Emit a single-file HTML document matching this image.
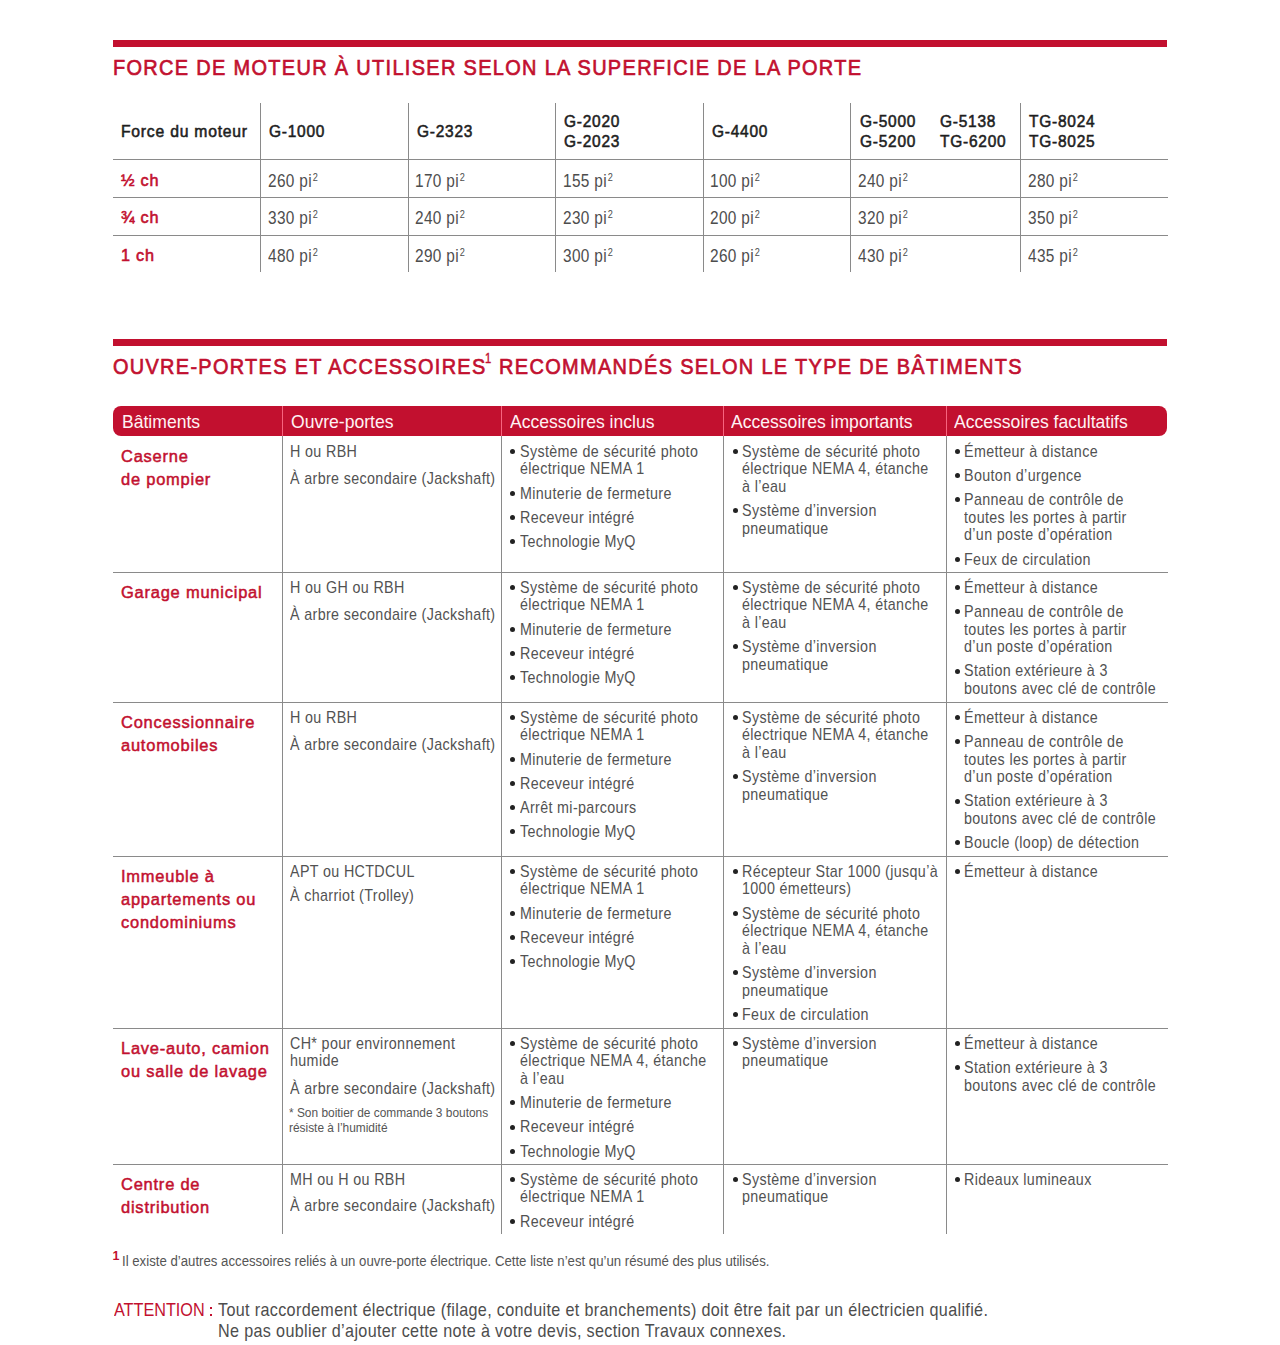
<!DOCTYPE html>
<html><head><meta charset="utf-8"><title>Force de moteur</title>
<style>
html,body{margin:0;padding:0;background:#fff;}
body{width:1280px;height:1345px;position:relative;overflow:hidden;font-family:"Liberation Sans",sans-serif;}
.t{position:absolute;white-space:nowrap;}
.r{position:absolute;}
.sup{font-size:11px;vertical-align:6px;line-height:0;margin-left:1px;}
</style></head><body>
<div class="r" style="left:113px;top:40px;width:1054px;height:7px;background:#c2102f;"></div>
<div class="t" style="left:112.90px;top:56.75px;font-size:22.5px;line-height:22.5px;font-weight:normal;color:#c2102f;transform:scaleX(0.8863);transform-origin:0 19.05px;-webkit-text-stroke:0.7px #c2102f;letter-spacing:1.5px;">FORCE DE MOTEUR À UTILISER SELON LA SUPERFICIE DE LA PORTE</div>
<div class="r" style="left:260px;top:103px;width:1px;height:169px;background:#8a8a8a;"></div>
<div class="r" style="left:408px;top:103px;width:1px;height:169px;background:#8a8a8a;"></div>
<div class="r" style="left:555px;top:103px;width:1px;height:169px;background:#8a8a8a;"></div>
<div class="r" style="left:703px;top:103px;width:1px;height:169px;background:#8a8a8a;"></div>
<div class="r" style="left:850px;top:103px;width:1px;height:169px;background:#8a8a8a;"></div>
<div class="r" style="left:1020px;top:103px;width:1px;height:169px;background:#8a8a8a;"></div>
<div class="r" style="left:113px;top:159px;width:1055px;height:1px;background:#8a8a8a;"></div>
<div class="r" style="left:113px;top:197px;width:1055px;height:1px;background:#8a8a8a;"></div>
<div class="r" style="left:113px;top:235px;width:1055px;height:1px;background:#8a8a8a;"></div>
<div class="t" style="left:121.00px;top:123.95px;font-size:16.0px;line-height:16.0px;font-weight:normal;color:#1e1e1e;transform:scaleX(0.9800);transform-origin:0 13.55px;-webkit-text-stroke:0.55px #1e1e1e;letter-spacing:0.8px;">Force du moteur</div>
<div class="t" style="left:269.10px;top:123.95px;font-size:16.0px;line-height:16.0px;font-weight:normal;color:#1e1e1e;transform:scaleX(0.9663);transform-origin:0 13.55px;-webkit-text-stroke:0.55px #1e1e1e;letter-spacing:0.8px;">G-1000</div>
<div class="t" style="left:416.50px;top:123.95px;font-size:16.0px;line-height:16.0px;font-weight:normal;color:#1e1e1e;transform:scaleX(0.9663);transform-origin:0 13.55px;-webkit-text-stroke:0.55px #1e1e1e;letter-spacing:0.8px;">G-2323</div>
<div class="t" style="left:564.00px;top:114.35px;font-size:16.0px;line-height:16.0px;font-weight:normal;color:#1e1e1e;transform:scaleX(0.9663);transform-origin:0 13.55px;-webkit-text-stroke:0.55px #1e1e1e;letter-spacing:0.8px;">G-2020</div>
<div class="t" style="left:564.00px;top:134.05px;font-size:16.0px;line-height:16.0px;font-weight:normal;color:#1e1e1e;transform:scaleX(0.9663);transform-origin:0 13.55px;-webkit-text-stroke:0.55px #1e1e1e;letter-spacing:0.8px;">G-2023</div>
<div class="t" style="left:711.50px;top:123.95px;font-size:16.0px;line-height:16.0px;font-weight:normal;color:#1e1e1e;transform:scaleX(0.9663);transform-origin:0 13.55px;-webkit-text-stroke:0.55px #1e1e1e;letter-spacing:0.8px;">G-4400</div>
<div class="t" style="left:859.50px;top:114.35px;font-size:16.0px;line-height:16.0px;font-weight:normal;color:#1e1e1e;transform:scaleX(0.9663);transform-origin:0 13.55px;-webkit-text-stroke:0.55px #1e1e1e;letter-spacing:0.8px;">G-5000</div>
<div class="t" style="left:859.50px;top:134.05px;font-size:16.0px;line-height:16.0px;font-weight:normal;color:#1e1e1e;transform:scaleX(0.9663);transform-origin:0 13.55px;-webkit-text-stroke:0.55px #1e1e1e;letter-spacing:0.8px;">G-5200</div>
<div class="t" style="left:939.90px;top:114.35px;font-size:16.0px;line-height:16.0px;font-weight:normal;color:#1e1e1e;transform:scaleX(0.9663);transform-origin:0 13.55px;-webkit-text-stroke:0.55px #1e1e1e;letter-spacing:0.8px;">G-5138</div>
<div class="t" style="left:939.90px;top:134.05px;font-size:16.0px;line-height:16.0px;font-weight:normal;color:#1e1e1e;transform:scaleX(0.9663);transform-origin:0 13.55px;-webkit-text-stroke:0.55px #1e1e1e;letter-spacing:0.8px;">TG-6200</div>
<div class="t" style="left:1028.60px;top:114.35px;font-size:16.0px;line-height:16.0px;font-weight:normal;color:#1e1e1e;transform:scaleX(0.9663);transform-origin:0 13.55px;-webkit-text-stroke:0.55px #1e1e1e;letter-spacing:0.8px;">TG-8024</div>
<div class="t" style="left:1028.60px;top:134.05px;font-size:16.0px;line-height:16.0px;font-weight:normal;color:#1e1e1e;transform:scaleX(0.9663);transform-origin:0 13.55px;-webkit-text-stroke:0.55px #1e1e1e;letter-spacing:0.8px;">TG-8025</div>
<div class="t" style="left:120.50px;top:172.86px;font-size:16.7px;line-height:16.7px;font-weight:normal;color:#c2102f;transform:scaleX(0.9719);transform-origin:0 14.14px;-webkit-text-stroke:0.6px #c2102f;letter-spacing:0.8px;">½ ch</div>
<div class="t" style="left:268.00px;top:171.54px;font-size:18.5px;line-height:18.5px;font-weight:normal;color:#4d4d4d;transform:scaleX(0.8324);transform-origin:0 15.66px;letter-spacing:0.4px;">260 pi<span class="sup">2</span></div>
<div class="t" style="left:415.00px;top:171.54px;font-size:18.5px;line-height:18.5px;font-weight:normal;color:#4d4d4d;transform:scaleX(0.8324);transform-origin:0 15.66px;letter-spacing:0.4px;">170 pi<span class="sup">2</span></div>
<div class="t" style="left:563.30px;top:171.54px;font-size:18.5px;line-height:18.5px;font-weight:normal;color:#4d4d4d;transform:scaleX(0.8324);transform-origin:0 15.66px;letter-spacing:0.4px;">155 pi<span class="sup">2</span></div>
<div class="t" style="left:710.30px;top:171.54px;font-size:18.5px;line-height:18.5px;font-weight:normal;color:#4d4d4d;transform:scaleX(0.8324);transform-origin:0 15.66px;letter-spacing:0.4px;">100 pi<span class="sup">2</span></div>
<div class="t" style="left:858.30px;top:171.54px;font-size:18.5px;line-height:18.5px;font-weight:normal;color:#4d4d4d;transform:scaleX(0.8324);transform-origin:0 15.66px;letter-spacing:0.4px;">240 pi<span class="sup">2</span></div>
<div class="t" style="left:1028.10px;top:171.54px;font-size:18.5px;line-height:18.5px;font-weight:normal;color:#4d4d4d;transform:scaleX(0.8324);transform-origin:0 15.66px;letter-spacing:0.4px;">280 pi<span class="sup">2</span></div>
<div class="t" style="left:120.50px;top:210.46px;font-size:16.7px;line-height:16.7px;font-weight:normal;color:#c2102f;transform:scaleX(0.9719);transform-origin:0 14.14px;-webkit-text-stroke:0.6px #c2102f;letter-spacing:0.8px;">¾ ch</div>
<div class="t" style="left:268.00px;top:209.14px;font-size:18.5px;line-height:18.5px;font-weight:normal;color:#4d4d4d;transform:scaleX(0.8324);transform-origin:0 15.66px;letter-spacing:0.4px;">330 pi<span class="sup">2</span></div>
<div class="t" style="left:415.00px;top:209.14px;font-size:18.5px;line-height:18.5px;font-weight:normal;color:#4d4d4d;transform:scaleX(0.8324);transform-origin:0 15.66px;letter-spacing:0.4px;">240 pi<span class="sup">2</span></div>
<div class="t" style="left:563.30px;top:209.14px;font-size:18.5px;line-height:18.5px;font-weight:normal;color:#4d4d4d;transform:scaleX(0.8324);transform-origin:0 15.66px;letter-spacing:0.4px;">230 pi<span class="sup">2</span></div>
<div class="t" style="left:710.30px;top:209.14px;font-size:18.5px;line-height:18.5px;font-weight:normal;color:#4d4d4d;transform:scaleX(0.8324);transform-origin:0 15.66px;letter-spacing:0.4px;">200 pi<span class="sup">2</span></div>
<div class="t" style="left:858.30px;top:209.14px;font-size:18.5px;line-height:18.5px;font-weight:normal;color:#4d4d4d;transform:scaleX(0.8324);transform-origin:0 15.66px;letter-spacing:0.4px;">320 pi<span class="sup">2</span></div>
<div class="t" style="left:1028.10px;top:209.14px;font-size:18.5px;line-height:18.5px;font-weight:normal;color:#4d4d4d;transform:scaleX(0.8324);transform-origin:0 15.66px;letter-spacing:0.4px;">350 pi<span class="sup">2</span></div>
<div class="t" style="left:120.50px;top:247.96px;font-size:16.7px;line-height:16.7px;font-weight:normal;color:#c2102f;transform:scaleX(0.9719);transform-origin:0 14.14px;-webkit-text-stroke:0.6px #c2102f;letter-spacing:0.8px;">1 ch</div>
<div class="t" style="left:268.00px;top:246.64px;font-size:18.5px;line-height:18.5px;font-weight:normal;color:#4d4d4d;transform:scaleX(0.8324);transform-origin:0 15.66px;letter-spacing:0.4px;">480 pi<span class="sup">2</span></div>
<div class="t" style="left:415.00px;top:246.64px;font-size:18.5px;line-height:18.5px;font-weight:normal;color:#4d4d4d;transform:scaleX(0.8324);transform-origin:0 15.66px;letter-spacing:0.4px;">290 pi<span class="sup">2</span></div>
<div class="t" style="left:563.30px;top:246.64px;font-size:18.5px;line-height:18.5px;font-weight:normal;color:#4d4d4d;transform:scaleX(0.8324);transform-origin:0 15.66px;letter-spacing:0.4px;">300 pi<span class="sup">2</span></div>
<div class="t" style="left:710.30px;top:246.64px;font-size:18.5px;line-height:18.5px;font-weight:normal;color:#4d4d4d;transform:scaleX(0.8324);transform-origin:0 15.66px;letter-spacing:0.4px;">260 pi<span class="sup">2</span></div>
<div class="t" style="left:858.30px;top:246.64px;font-size:18.5px;line-height:18.5px;font-weight:normal;color:#4d4d4d;transform:scaleX(0.8324);transform-origin:0 15.66px;letter-spacing:0.4px;">430 pi<span class="sup">2</span></div>
<div class="t" style="left:1028.10px;top:246.64px;font-size:18.5px;line-height:18.5px;font-weight:normal;color:#4d4d4d;transform:scaleX(0.8324);transform-origin:0 15.66px;letter-spacing:0.4px;">435 pi<span class="sup">2</span></div>
<div class="r" style="left:113px;top:339px;width:1054px;height:7px;background:#c2102f;"></div>
<div class="t" style="left:113.40px;top:356.35px;font-size:22.5px;line-height:22.5px;font-weight:normal;color:#c2102f;transform:scaleX(0.8846);transform-origin:0 19.05px;-webkit-text-stroke:0.7px #c2102f;letter-spacing:1.5px;">OUVRE-PORTES ET ACCESSOIRES</div>
<div class="t" style="left:498.60px;top:356.35px;font-size:22.5px;line-height:22.5px;font-weight:normal;color:#c2102f;transform:scaleX(0.8872);transform-origin:0 19.05px;-webkit-text-stroke:0.7px #c2102f;letter-spacing:1.5px;">RECOMMANDÉS SELON LE TYPE DE BÂTIMENTS</div>
<div class="r" style="left:113px;top:406px;width:1054px;height:30px;background:#c2102f;border-radius:8px"></div>
<div class="r" style="left:282px;top:406px;width:1px;height:30px;background:#f7647f;"></div>
<div class="r" style="left:501px;top:406px;width:1px;height:30px;background:#f7647f;"></div>
<div class="r" style="left:723px;top:406px;width:1px;height:30px;background:#f7647f;"></div>
<div class="r" style="left:946px;top:406px;width:1px;height:30px;background:#f7647f;"></div>
<div class="t" style="left:121.90px;top:413.19px;font-size:18.2px;line-height:18.2px;font-weight:normal;color:#fff2f4;transform:scaleX(0.9659);transform-origin:0 15.41px;">Bâtiments</div>
<div class="t" style="left:290.90px;top:413.19px;font-size:18.2px;line-height:18.2px;font-weight:normal;color:#fff2f4;transform:scaleX(0.9659);transform-origin:0 15.41px;">Ouvre-portes</div>
<div class="t" style="left:510.30px;top:413.19px;font-size:18.2px;line-height:18.2px;font-weight:normal;color:#fff2f4;transform:scaleX(0.9659);transform-origin:0 15.41px;">Accessoires inclus</div>
<div class="t" style="left:731.30px;top:413.19px;font-size:18.2px;line-height:18.2px;font-weight:normal;color:#fff2f4;transform:scaleX(0.9659);transform-origin:0 15.41px;">Accessoires importants</div>
<div class="t" style="left:954.30px;top:413.19px;font-size:18.2px;line-height:18.2px;font-weight:normal;color:#fff2f4;transform:scaleX(0.9659);transform-origin:0 15.41px;">Accessoires facultatifs</div>
<div class="r" style="left:113px;top:572px;width:1055px;height:1px;background:#8a8a8a;"></div>
<div class="r" style="left:113px;top:702px;width:1055px;height:1px;background:#8a8a8a;"></div>
<div class="r" style="left:113px;top:856px;width:1055px;height:1px;background:#8a8a8a;"></div>
<div class="r" style="left:113px;top:1028px;width:1055px;height:1px;background:#8a8a8a;"></div>
<div class="r" style="left:113px;top:1164px;width:1055px;height:1px;background:#8a8a8a;"></div>
<div class="r" style="left:282px;top:436px;width:1px;height:798px;background:#8a8a8a;"></div>
<div class="r" style="left:501px;top:436px;width:1px;height:798px;background:#8a8a8a;"></div>
<div class="r" style="left:723px;top:436px;width:1px;height:798px;background:#8a8a8a;"></div>
<div class="r" style="left:946px;top:436px;width:1px;height:798px;background:#8a8a8a;"></div>
<div class="t" style="left:121.20px;top:448.86px;font-size:16.7px;line-height:16.7px;font-weight:normal;color:#c2102f;transform:scaleX(0.9850);transform-origin:0 14.14px;-webkit-text-stroke:0.5px #c2102f;letter-spacing:0.8px;">Caserne</div>
<div class="t" style="left:121.20px;top:471.96px;font-size:16.7px;line-height:16.7px;font-weight:normal;color:#c2102f;transform:scaleX(0.9850);transform-origin:0 14.14px;-webkit-text-stroke:0.5px #c2102f;letter-spacing:0.8px;">de pompier</div>
<div class="t" style="left:289.70px;top:443.74px;font-size:15.9px;line-height:15.9px;font-weight:normal;color:#525252;transform:scaleX(0.8994);transform-origin:0 13.46px;letter-spacing:0.4px;">H ou RBH</div>
<div class="t" style="left:289.70px;top:471.24px;font-size:15.9px;line-height:15.9px;font-weight:normal;color:#525252;transform:scaleX(0.8994);transform-origin:0 13.46px;letter-spacing:0.4px;">À arbre secondaire (Jackshaft)</div>
<div class="r" style="left:510.00px;top:449.00px;width:5px;height:5px;border-radius:50%;background:#222"></div>
<div class="t" style="left:519.60px;top:443.74px;font-size:15.9px;line-height:15.9px;font-weight:normal;color:#525252;transform:scaleX(0.8994);transform-origin:0 13.46px;letter-spacing:0.4px;">Système de sécurité photo</div>
<div class="t" style="left:519.60px;top:461.34px;font-size:15.9px;line-height:15.9px;font-weight:normal;color:#525252;transform:scaleX(0.8994);transform-origin:0 13.46px;letter-spacing:0.4px;">électrique NEMA 1</div>
<div class="r" style="left:510.00px;top:490.80px;width:5px;height:5px;border-radius:50%;background:#222"></div>
<div class="t" style="left:519.60px;top:485.54px;font-size:15.9px;line-height:15.9px;font-weight:normal;color:#525252;transform:scaleX(0.8994);transform-origin:0 13.46px;letter-spacing:0.4px;">Minuterie de fermeture</div>
<div class="r" style="left:510.00px;top:515.00px;width:5px;height:5px;border-radius:50%;background:#222"></div>
<div class="t" style="left:519.60px;top:509.74px;font-size:15.9px;line-height:15.9px;font-weight:normal;color:#525252;transform:scaleX(0.8994);transform-origin:0 13.46px;letter-spacing:0.4px;">Receveur intégré</div>
<div class="r" style="left:510.00px;top:539.20px;width:5px;height:5px;border-radius:50%;background:#222"></div>
<div class="t" style="left:519.60px;top:533.94px;font-size:15.9px;line-height:15.9px;font-weight:normal;color:#525252;transform:scaleX(0.8994);transform-origin:0 13.46px;letter-spacing:0.4px;">Technologie MyQ</div>
<div class="r" style="left:732.60px;top:449.00px;width:5px;height:5px;border-radius:50%;background:#222"></div>
<div class="t" style="left:742.20px;top:443.74px;font-size:15.9px;line-height:15.9px;font-weight:normal;color:#525252;transform:scaleX(0.8994);transform-origin:0 13.46px;letter-spacing:0.4px;">Système de sécurité photo</div>
<div class="t" style="left:742.20px;top:461.34px;font-size:15.9px;line-height:15.9px;font-weight:normal;color:#525252;transform:scaleX(0.8994);transform-origin:0 13.46px;letter-spacing:0.4px;">électrique NEMA 4, étanche</div>
<div class="t" style="left:742.20px;top:478.94px;font-size:15.9px;line-height:15.9px;font-weight:normal;color:#525252;transform:scaleX(0.8994);transform-origin:0 13.46px;letter-spacing:0.4px;">à l’eau</div>
<div class="r" style="left:732.60px;top:508.40px;width:5px;height:5px;border-radius:50%;background:#222"></div>
<div class="t" style="left:742.20px;top:503.14px;font-size:15.9px;line-height:15.9px;font-weight:normal;color:#525252;transform:scaleX(0.8994);transform-origin:0 13.46px;letter-spacing:0.4px;">Système d’inversion</div>
<div class="t" style="left:742.20px;top:520.74px;font-size:15.9px;line-height:15.9px;font-weight:normal;color:#525252;transform:scaleX(0.8994);transform-origin:0 13.46px;letter-spacing:0.4px;">pneumatique</div>
<div class="r" style="left:954.60px;top:449.00px;width:5px;height:5px;border-radius:50%;background:#222"></div>
<div class="t" style="left:964.20px;top:443.74px;font-size:15.9px;line-height:15.9px;font-weight:normal;color:#525252;transform:scaleX(0.8994);transform-origin:0 13.46px;letter-spacing:0.4px;">Émetteur à distance</div>
<div class="r" style="left:954.60px;top:473.20px;width:5px;height:5px;border-radius:50%;background:#222"></div>
<div class="t" style="left:964.20px;top:467.94px;font-size:15.9px;line-height:15.9px;font-weight:normal;color:#525252;transform:scaleX(0.8994);transform-origin:0 13.46px;letter-spacing:0.4px;">Bouton d’urgence</div>
<div class="r" style="left:954.60px;top:497.40px;width:5px;height:5px;border-radius:50%;background:#222"></div>
<div class="t" style="left:964.20px;top:492.14px;font-size:15.9px;line-height:15.9px;font-weight:normal;color:#525252;transform:scaleX(0.8994);transform-origin:0 13.46px;letter-spacing:0.4px;">Panneau de contrôle de</div>
<div class="t" style="left:964.20px;top:509.74px;font-size:15.9px;line-height:15.9px;font-weight:normal;color:#525252;transform:scaleX(0.8994);transform-origin:0 13.46px;letter-spacing:0.4px;">toutes les portes à partir</div>
<div class="t" style="left:964.20px;top:527.34px;font-size:15.9px;line-height:15.9px;font-weight:normal;color:#525252;transform:scaleX(0.8994);transform-origin:0 13.46px;letter-spacing:0.4px;">d’un poste d’opération</div>
<div class="r" style="left:954.60px;top:556.80px;width:5px;height:5px;border-radius:50%;background:#222"></div>
<div class="t" style="left:964.20px;top:551.54px;font-size:15.9px;line-height:15.9px;font-weight:normal;color:#525252;transform:scaleX(0.8994);transform-origin:0 13.46px;letter-spacing:0.4px;">Feux de circulation</div>
<div class="t" style="left:121.20px;top:584.86px;font-size:16.7px;line-height:16.7px;font-weight:normal;color:#c2102f;transform:scaleX(0.9850);transform-origin:0 14.14px;-webkit-text-stroke:0.5px #c2102f;letter-spacing:0.8px;">Garage municipal</div>
<div class="t" style="left:289.70px;top:579.74px;font-size:15.9px;line-height:15.9px;font-weight:normal;color:#525252;transform:scaleX(0.8994);transform-origin:0 13.46px;letter-spacing:0.4px;">H ou GH ou RBH</div>
<div class="t" style="left:289.70px;top:607.24px;font-size:15.9px;line-height:15.9px;font-weight:normal;color:#525252;transform:scaleX(0.8994);transform-origin:0 13.46px;letter-spacing:0.4px;">À arbre secondaire (Jackshaft)</div>
<div class="r" style="left:510.00px;top:585.00px;width:5px;height:5px;border-radius:50%;background:#222"></div>
<div class="t" style="left:519.60px;top:579.74px;font-size:15.9px;line-height:15.9px;font-weight:normal;color:#525252;transform:scaleX(0.8994);transform-origin:0 13.46px;letter-spacing:0.4px;">Système de sécurité photo</div>
<div class="t" style="left:519.60px;top:597.34px;font-size:15.9px;line-height:15.9px;font-weight:normal;color:#525252;transform:scaleX(0.8994);transform-origin:0 13.46px;letter-spacing:0.4px;">électrique NEMA 1</div>
<div class="r" style="left:510.00px;top:626.80px;width:5px;height:5px;border-radius:50%;background:#222"></div>
<div class="t" style="left:519.60px;top:621.54px;font-size:15.9px;line-height:15.9px;font-weight:normal;color:#525252;transform:scaleX(0.8994);transform-origin:0 13.46px;letter-spacing:0.4px;">Minuterie de fermeture</div>
<div class="r" style="left:510.00px;top:651.00px;width:5px;height:5px;border-radius:50%;background:#222"></div>
<div class="t" style="left:519.60px;top:645.74px;font-size:15.9px;line-height:15.9px;font-weight:normal;color:#525252;transform:scaleX(0.8994);transform-origin:0 13.46px;letter-spacing:0.4px;">Receveur intégré</div>
<div class="r" style="left:510.00px;top:675.20px;width:5px;height:5px;border-radius:50%;background:#222"></div>
<div class="t" style="left:519.60px;top:669.94px;font-size:15.9px;line-height:15.9px;font-weight:normal;color:#525252;transform:scaleX(0.8994);transform-origin:0 13.46px;letter-spacing:0.4px;">Technologie MyQ</div>
<div class="r" style="left:732.60px;top:585.00px;width:5px;height:5px;border-radius:50%;background:#222"></div>
<div class="t" style="left:742.20px;top:579.74px;font-size:15.9px;line-height:15.9px;font-weight:normal;color:#525252;transform:scaleX(0.8994);transform-origin:0 13.46px;letter-spacing:0.4px;">Système de sécurité photo</div>
<div class="t" style="left:742.20px;top:597.34px;font-size:15.9px;line-height:15.9px;font-weight:normal;color:#525252;transform:scaleX(0.8994);transform-origin:0 13.46px;letter-spacing:0.4px;">électrique NEMA 4, étanche</div>
<div class="t" style="left:742.20px;top:614.94px;font-size:15.9px;line-height:15.9px;font-weight:normal;color:#525252;transform:scaleX(0.8994);transform-origin:0 13.46px;letter-spacing:0.4px;">à l’eau</div>
<div class="r" style="left:732.60px;top:644.40px;width:5px;height:5px;border-radius:50%;background:#222"></div>
<div class="t" style="left:742.20px;top:639.14px;font-size:15.9px;line-height:15.9px;font-weight:normal;color:#525252;transform:scaleX(0.8994);transform-origin:0 13.46px;letter-spacing:0.4px;">Système d’inversion</div>
<div class="t" style="left:742.20px;top:656.74px;font-size:15.9px;line-height:15.9px;font-weight:normal;color:#525252;transform:scaleX(0.8994);transform-origin:0 13.46px;letter-spacing:0.4px;">pneumatique</div>
<div class="r" style="left:954.60px;top:585.00px;width:5px;height:5px;border-radius:50%;background:#222"></div>
<div class="t" style="left:964.20px;top:579.74px;font-size:15.9px;line-height:15.9px;font-weight:normal;color:#525252;transform:scaleX(0.8994);transform-origin:0 13.46px;letter-spacing:0.4px;">Émetteur à distance</div>
<div class="r" style="left:954.60px;top:609.20px;width:5px;height:5px;border-radius:50%;background:#222"></div>
<div class="t" style="left:964.20px;top:603.94px;font-size:15.9px;line-height:15.9px;font-weight:normal;color:#525252;transform:scaleX(0.8994);transform-origin:0 13.46px;letter-spacing:0.4px;">Panneau de contrôle de</div>
<div class="t" style="left:964.20px;top:621.54px;font-size:15.9px;line-height:15.9px;font-weight:normal;color:#525252;transform:scaleX(0.8994);transform-origin:0 13.46px;letter-spacing:0.4px;">toutes les portes à partir</div>
<div class="t" style="left:964.20px;top:639.14px;font-size:15.9px;line-height:15.9px;font-weight:normal;color:#525252;transform:scaleX(0.8994);transform-origin:0 13.46px;letter-spacing:0.4px;">d’un poste d’opération</div>
<div class="r" style="left:954.60px;top:668.60px;width:5px;height:5px;border-radius:50%;background:#222"></div>
<div class="t" style="left:964.20px;top:663.34px;font-size:15.9px;line-height:15.9px;font-weight:normal;color:#525252;transform:scaleX(0.8994);transform-origin:0 13.46px;letter-spacing:0.4px;">Station extérieure à 3</div>
<div class="t" style="left:964.20px;top:680.94px;font-size:15.9px;line-height:15.9px;font-weight:normal;color:#525252;transform:scaleX(0.8994);transform-origin:0 13.46px;letter-spacing:0.4px;">boutons avec clé de contrôle</div>
<div class="t" style="left:121.20px;top:714.86px;font-size:16.7px;line-height:16.7px;font-weight:normal;color:#c2102f;transform:scaleX(0.9850);transform-origin:0 14.14px;-webkit-text-stroke:0.5px #c2102f;letter-spacing:0.8px;">Concessionnaire</div>
<div class="t" style="left:121.20px;top:737.96px;font-size:16.7px;line-height:16.7px;font-weight:normal;color:#c2102f;transform:scaleX(0.9850);transform-origin:0 14.14px;-webkit-text-stroke:0.5px #c2102f;letter-spacing:0.8px;">automobiles</div>
<div class="t" style="left:289.70px;top:709.74px;font-size:15.9px;line-height:15.9px;font-weight:normal;color:#525252;transform:scaleX(0.8994);transform-origin:0 13.46px;letter-spacing:0.4px;">H ou RBH</div>
<div class="t" style="left:289.70px;top:737.24px;font-size:15.9px;line-height:15.9px;font-weight:normal;color:#525252;transform:scaleX(0.8994);transform-origin:0 13.46px;letter-spacing:0.4px;">À arbre secondaire (Jackshaft)</div>
<div class="r" style="left:510.00px;top:715.00px;width:5px;height:5px;border-radius:50%;background:#222"></div>
<div class="t" style="left:519.60px;top:709.74px;font-size:15.9px;line-height:15.9px;font-weight:normal;color:#525252;transform:scaleX(0.8994);transform-origin:0 13.46px;letter-spacing:0.4px;">Système de sécurité photo</div>
<div class="t" style="left:519.60px;top:727.34px;font-size:15.9px;line-height:15.9px;font-weight:normal;color:#525252;transform:scaleX(0.8994);transform-origin:0 13.46px;letter-spacing:0.4px;">électrique NEMA 1</div>
<div class="r" style="left:510.00px;top:756.80px;width:5px;height:5px;border-radius:50%;background:#222"></div>
<div class="t" style="left:519.60px;top:751.54px;font-size:15.9px;line-height:15.9px;font-weight:normal;color:#525252;transform:scaleX(0.8994);transform-origin:0 13.46px;letter-spacing:0.4px;">Minuterie de fermeture</div>
<div class="r" style="left:510.00px;top:781.00px;width:5px;height:5px;border-radius:50%;background:#222"></div>
<div class="t" style="left:519.60px;top:775.74px;font-size:15.9px;line-height:15.9px;font-weight:normal;color:#525252;transform:scaleX(0.8994);transform-origin:0 13.46px;letter-spacing:0.4px;">Receveur intégré</div>
<div class="r" style="left:510.00px;top:805.20px;width:5px;height:5px;border-radius:50%;background:#222"></div>
<div class="t" style="left:519.60px;top:799.94px;font-size:15.9px;line-height:15.9px;font-weight:normal;color:#525252;transform:scaleX(0.8994);transform-origin:0 13.46px;letter-spacing:0.4px;">Arrêt mi-parcours</div>
<div class="r" style="left:510.00px;top:829.40px;width:5px;height:5px;border-radius:50%;background:#222"></div>
<div class="t" style="left:519.60px;top:824.14px;font-size:15.9px;line-height:15.9px;font-weight:normal;color:#525252;transform:scaleX(0.8994);transform-origin:0 13.46px;letter-spacing:0.4px;">Technologie MyQ</div>
<div class="r" style="left:732.60px;top:715.00px;width:5px;height:5px;border-radius:50%;background:#222"></div>
<div class="t" style="left:742.20px;top:709.74px;font-size:15.9px;line-height:15.9px;font-weight:normal;color:#525252;transform:scaleX(0.8994);transform-origin:0 13.46px;letter-spacing:0.4px;">Système de sécurité photo</div>
<div class="t" style="left:742.20px;top:727.34px;font-size:15.9px;line-height:15.9px;font-weight:normal;color:#525252;transform:scaleX(0.8994);transform-origin:0 13.46px;letter-spacing:0.4px;">électrique NEMA 4, étanche</div>
<div class="t" style="left:742.20px;top:744.94px;font-size:15.9px;line-height:15.9px;font-weight:normal;color:#525252;transform:scaleX(0.8994);transform-origin:0 13.46px;letter-spacing:0.4px;">à l’eau</div>
<div class="r" style="left:732.60px;top:774.40px;width:5px;height:5px;border-radius:50%;background:#222"></div>
<div class="t" style="left:742.20px;top:769.14px;font-size:15.9px;line-height:15.9px;font-weight:normal;color:#525252;transform:scaleX(0.8994);transform-origin:0 13.46px;letter-spacing:0.4px;">Système d’inversion</div>
<div class="t" style="left:742.20px;top:786.74px;font-size:15.9px;line-height:15.9px;font-weight:normal;color:#525252;transform:scaleX(0.8994);transform-origin:0 13.46px;letter-spacing:0.4px;">pneumatique</div>
<div class="r" style="left:954.60px;top:715.00px;width:5px;height:5px;border-radius:50%;background:#222"></div>
<div class="t" style="left:964.20px;top:709.74px;font-size:15.9px;line-height:15.9px;font-weight:normal;color:#525252;transform:scaleX(0.8994);transform-origin:0 13.46px;letter-spacing:0.4px;">Émetteur à distance</div>
<div class="r" style="left:954.60px;top:739.20px;width:5px;height:5px;border-radius:50%;background:#222"></div>
<div class="t" style="left:964.20px;top:733.94px;font-size:15.9px;line-height:15.9px;font-weight:normal;color:#525252;transform:scaleX(0.8994);transform-origin:0 13.46px;letter-spacing:0.4px;">Panneau de contrôle de</div>
<div class="t" style="left:964.20px;top:751.54px;font-size:15.9px;line-height:15.9px;font-weight:normal;color:#525252;transform:scaleX(0.8994);transform-origin:0 13.46px;letter-spacing:0.4px;">toutes les portes à partir</div>
<div class="t" style="left:964.20px;top:769.14px;font-size:15.9px;line-height:15.9px;font-weight:normal;color:#525252;transform:scaleX(0.8994);transform-origin:0 13.46px;letter-spacing:0.4px;">d’un poste d’opération</div>
<div class="r" style="left:954.60px;top:798.60px;width:5px;height:5px;border-radius:50%;background:#222"></div>
<div class="t" style="left:964.20px;top:793.34px;font-size:15.9px;line-height:15.9px;font-weight:normal;color:#525252;transform:scaleX(0.8994);transform-origin:0 13.46px;letter-spacing:0.4px;">Station extérieure à 3</div>
<div class="t" style="left:964.20px;top:810.94px;font-size:15.9px;line-height:15.9px;font-weight:normal;color:#525252;transform:scaleX(0.8994);transform-origin:0 13.46px;letter-spacing:0.4px;">boutons avec clé de contrôle</div>
<div class="r" style="left:954.60px;top:840.40px;width:5px;height:5px;border-radius:50%;background:#222"></div>
<div class="t" style="left:964.20px;top:835.14px;font-size:15.9px;line-height:15.9px;font-weight:normal;color:#525252;transform:scaleX(0.8994);transform-origin:0 13.46px;letter-spacing:0.4px;">Boucle (loop) de détection</div>
<div class="t" style="left:121.20px;top:868.86px;font-size:16.7px;line-height:16.7px;font-weight:normal;color:#c2102f;transform:scaleX(0.9850);transform-origin:0 14.14px;-webkit-text-stroke:0.5px #c2102f;letter-spacing:0.8px;">Immeuble à</div>
<div class="t" style="left:121.20px;top:891.96px;font-size:16.7px;line-height:16.7px;font-weight:normal;color:#c2102f;transform:scaleX(0.9850);transform-origin:0 14.14px;-webkit-text-stroke:0.5px #c2102f;letter-spacing:0.8px;">appartements ou</div>
<div class="t" style="left:121.20px;top:915.06px;font-size:16.7px;line-height:16.7px;font-weight:normal;color:#c2102f;transform:scaleX(0.9850);transform-origin:0 14.14px;-webkit-text-stroke:0.5px #c2102f;letter-spacing:0.8px;">condominiums</div>
<div class="t" style="left:289.70px;top:863.74px;font-size:15.9px;line-height:15.9px;font-weight:normal;color:#525252;transform:scaleX(0.8994);transform-origin:0 13.46px;letter-spacing:0.4px;">APT ou HCTDCUL</div>
<div class="t" style="left:289.70px;top:887.74px;font-size:15.9px;line-height:15.9px;font-weight:normal;color:#525252;transform:scaleX(0.8994);transform-origin:0 13.46px;letter-spacing:0.4px;">À charriot (Trolley)</div>
<div class="r" style="left:510.00px;top:869.00px;width:5px;height:5px;border-radius:50%;background:#222"></div>
<div class="t" style="left:519.60px;top:863.74px;font-size:15.9px;line-height:15.9px;font-weight:normal;color:#525252;transform:scaleX(0.8994);transform-origin:0 13.46px;letter-spacing:0.4px;">Système de sécurité photo</div>
<div class="t" style="left:519.60px;top:881.34px;font-size:15.9px;line-height:15.9px;font-weight:normal;color:#525252;transform:scaleX(0.8994);transform-origin:0 13.46px;letter-spacing:0.4px;">électrique NEMA 1</div>
<div class="r" style="left:510.00px;top:910.80px;width:5px;height:5px;border-radius:50%;background:#222"></div>
<div class="t" style="left:519.60px;top:905.54px;font-size:15.9px;line-height:15.9px;font-weight:normal;color:#525252;transform:scaleX(0.8994);transform-origin:0 13.46px;letter-spacing:0.4px;">Minuterie de fermeture</div>
<div class="r" style="left:510.00px;top:935.00px;width:5px;height:5px;border-radius:50%;background:#222"></div>
<div class="t" style="left:519.60px;top:929.74px;font-size:15.9px;line-height:15.9px;font-weight:normal;color:#525252;transform:scaleX(0.8994);transform-origin:0 13.46px;letter-spacing:0.4px;">Receveur intégré</div>
<div class="r" style="left:510.00px;top:959.20px;width:5px;height:5px;border-radius:50%;background:#222"></div>
<div class="t" style="left:519.60px;top:953.94px;font-size:15.9px;line-height:15.9px;font-weight:normal;color:#525252;transform:scaleX(0.8994);transform-origin:0 13.46px;letter-spacing:0.4px;">Technologie MyQ</div>
<div class="r" style="left:732.60px;top:869.00px;width:5px;height:5px;border-radius:50%;background:#222"></div>
<div class="t" style="left:742.20px;top:863.74px;font-size:15.9px;line-height:15.9px;font-weight:normal;color:#525252;transform:scaleX(0.8994);transform-origin:0 13.46px;letter-spacing:0.4px;">Récepteur Star 1000 (jusqu’à</div>
<div class="t" style="left:742.20px;top:881.34px;font-size:15.9px;line-height:15.9px;font-weight:normal;color:#525252;transform:scaleX(0.8994);transform-origin:0 13.46px;letter-spacing:0.4px;">1000 émetteurs)</div>
<div class="r" style="left:732.60px;top:910.80px;width:5px;height:5px;border-radius:50%;background:#222"></div>
<div class="t" style="left:742.20px;top:905.54px;font-size:15.9px;line-height:15.9px;font-weight:normal;color:#525252;transform:scaleX(0.8994);transform-origin:0 13.46px;letter-spacing:0.4px;">Système de sécurité photo</div>
<div class="t" style="left:742.20px;top:923.14px;font-size:15.9px;line-height:15.9px;font-weight:normal;color:#525252;transform:scaleX(0.8994);transform-origin:0 13.46px;letter-spacing:0.4px;">électrique NEMA 4, étanche</div>
<div class="t" style="left:742.20px;top:940.74px;font-size:15.9px;line-height:15.9px;font-weight:normal;color:#525252;transform:scaleX(0.8994);transform-origin:0 13.46px;letter-spacing:0.4px;">à l’eau</div>
<div class="r" style="left:732.60px;top:970.20px;width:5px;height:5px;border-radius:50%;background:#222"></div>
<div class="t" style="left:742.20px;top:964.94px;font-size:15.9px;line-height:15.9px;font-weight:normal;color:#525252;transform:scaleX(0.8994);transform-origin:0 13.46px;letter-spacing:0.4px;">Système d’inversion</div>
<div class="t" style="left:742.20px;top:982.54px;font-size:15.9px;line-height:15.9px;font-weight:normal;color:#525252;transform:scaleX(0.8994);transform-origin:0 13.46px;letter-spacing:0.4px;">pneumatique</div>
<div class="r" style="left:732.60px;top:1012.00px;width:5px;height:5px;border-radius:50%;background:#222"></div>
<div class="t" style="left:742.20px;top:1006.74px;font-size:15.9px;line-height:15.9px;font-weight:normal;color:#525252;transform:scaleX(0.8994);transform-origin:0 13.46px;letter-spacing:0.4px;">Feux de circulation</div>
<div class="r" style="left:954.60px;top:869.00px;width:5px;height:5px;border-radius:50%;background:#222"></div>
<div class="t" style="left:964.20px;top:863.74px;font-size:15.9px;line-height:15.9px;font-weight:normal;color:#525252;transform:scaleX(0.8994);transform-origin:0 13.46px;letter-spacing:0.4px;">Émetteur à distance</div>
<div class="t" style="left:121.20px;top:1040.86px;font-size:16.7px;line-height:16.7px;font-weight:normal;color:#c2102f;transform:scaleX(0.9850);transform-origin:0 14.14px;-webkit-text-stroke:0.5px #c2102f;letter-spacing:0.8px;">Lave-auto, camion</div>
<div class="t" style="left:121.20px;top:1063.96px;font-size:16.7px;line-height:16.7px;font-weight:normal;color:#c2102f;transform:scaleX(0.9850);transform-origin:0 14.14px;-webkit-text-stroke:0.5px #c2102f;letter-spacing:0.8px;">ou salle de lavage</div>
<div class="t" style="left:289.70px;top:1035.74px;font-size:15.9px;line-height:15.9px;font-weight:normal;color:#525252;transform:scaleX(0.8994);transform-origin:0 13.46px;letter-spacing:0.4px;">CH* pour environnement</div>
<div class="t" style="left:289.70px;top:1053.34px;font-size:15.9px;line-height:15.9px;font-weight:normal;color:#525252;transform:scaleX(0.8994);transform-origin:0 13.46px;letter-spacing:0.4px;">humide</div>
<div class="t" style="left:289.70px;top:1081.04px;font-size:15.9px;line-height:15.9px;font-weight:normal;color:#525252;transform:scaleX(0.8994);transform-origin:0 13.46px;letter-spacing:0.4px;">À arbre secondaire (Jackshaft)</div>
<div class="t" style="left:289.10px;top:1107.02px;font-size:12.5px;line-height:12.5px;font-weight:normal;color:#555555;transform:scaleX(0.9520);transform-origin:0 10.58px;">* Son boitier de commande 3 boutons</div>
<div class="t" style="left:289.10px;top:1122.02px;font-size:12.5px;line-height:12.5px;font-weight:normal;color:#555555;transform:scaleX(0.9520);transform-origin:0 10.58px;">résiste à l’humidité</div>
<div class="r" style="left:510.00px;top:1041.00px;width:5px;height:5px;border-radius:50%;background:#222"></div>
<div class="t" style="left:519.60px;top:1035.74px;font-size:15.9px;line-height:15.9px;font-weight:normal;color:#525252;transform:scaleX(0.8994);transform-origin:0 13.46px;letter-spacing:0.4px;">Système de sécurité photo</div>
<div class="t" style="left:519.60px;top:1053.34px;font-size:15.9px;line-height:15.9px;font-weight:normal;color:#525252;transform:scaleX(0.8994);transform-origin:0 13.46px;letter-spacing:0.4px;">électrique NEMA 4, étanche</div>
<div class="t" style="left:519.60px;top:1070.94px;font-size:15.9px;line-height:15.9px;font-weight:normal;color:#525252;transform:scaleX(0.8994);transform-origin:0 13.46px;letter-spacing:0.4px;">à l’eau</div>
<div class="r" style="left:510.00px;top:1100.40px;width:5px;height:5px;border-radius:50%;background:#222"></div>
<div class="t" style="left:519.60px;top:1095.14px;font-size:15.9px;line-height:15.9px;font-weight:normal;color:#525252;transform:scaleX(0.8994);transform-origin:0 13.46px;letter-spacing:0.4px;">Minuterie de fermeture</div>
<div class="r" style="left:510.00px;top:1124.60px;width:5px;height:5px;border-radius:50%;background:#222"></div>
<div class="t" style="left:519.60px;top:1119.34px;font-size:15.9px;line-height:15.9px;font-weight:normal;color:#525252;transform:scaleX(0.8994);transform-origin:0 13.46px;letter-spacing:0.4px;">Receveur intégré</div>
<div class="r" style="left:510.00px;top:1148.80px;width:5px;height:5px;border-radius:50%;background:#222"></div>
<div class="t" style="left:519.60px;top:1143.54px;font-size:15.9px;line-height:15.9px;font-weight:normal;color:#525252;transform:scaleX(0.8994);transform-origin:0 13.46px;letter-spacing:0.4px;">Technologie MyQ</div>
<div class="r" style="left:732.60px;top:1041.00px;width:5px;height:5px;border-radius:50%;background:#222"></div>
<div class="t" style="left:742.20px;top:1035.74px;font-size:15.9px;line-height:15.9px;font-weight:normal;color:#525252;transform:scaleX(0.8994);transform-origin:0 13.46px;letter-spacing:0.4px;">Système d’inversion</div>
<div class="t" style="left:742.20px;top:1053.34px;font-size:15.9px;line-height:15.9px;font-weight:normal;color:#525252;transform:scaleX(0.8994);transform-origin:0 13.46px;letter-spacing:0.4px;">pneumatique</div>
<div class="r" style="left:954.60px;top:1041.00px;width:5px;height:5px;border-radius:50%;background:#222"></div>
<div class="t" style="left:964.20px;top:1035.74px;font-size:15.9px;line-height:15.9px;font-weight:normal;color:#525252;transform:scaleX(0.8994);transform-origin:0 13.46px;letter-spacing:0.4px;">Émetteur à distance</div>
<div class="r" style="left:954.60px;top:1065.20px;width:5px;height:5px;border-radius:50%;background:#222"></div>
<div class="t" style="left:964.20px;top:1059.94px;font-size:15.9px;line-height:15.9px;font-weight:normal;color:#525252;transform:scaleX(0.8994);transform-origin:0 13.46px;letter-spacing:0.4px;">Station extérieure à 3</div>
<div class="t" style="left:964.20px;top:1077.54px;font-size:15.9px;line-height:15.9px;font-weight:normal;color:#525252;transform:scaleX(0.8994);transform-origin:0 13.46px;letter-spacing:0.4px;">boutons avec clé de contrôle</div>
<div class="t" style="left:121.20px;top:1176.86px;font-size:16.7px;line-height:16.7px;font-weight:normal;color:#c2102f;transform:scaleX(0.9850);transform-origin:0 14.14px;-webkit-text-stroke:0.5px #c2102f;letter-spacing:0.8px;">Centre de</div>
<div class="t" style="left:121.20px;top:1199.96px;font-size:16.7px;line-height:16.7px;font-weight:normal;color:#c2102f;transform:scaleX(0.9850);transform-origin:0 14.14px;-webkit-text-stroke:0.5px #c2102f;letter-spacing:0.8px;">distribution</div>
<div class="t" style="left:289.70px;top:1171.74px;font-size:15.9px;line-height:15.9px;font-weight:normal;color:#525252;transform:scaleX(0.8994);transform-origin:0 13.46px;letter-spacing:0.4px;">MH ou H ou RBH</div>
<div class="t" style="left:289.70px;top:1198.34px;font-size:15.9px;line-height:15.9px;font-weight:normal;color:#525252;transform:scaleX(0.8994);transform-origin:0 13.46px;letter-spacing:0.4px;">À arbre secondaire (Jackshaft)</div>
<div class="r" style="left:510.00px;top:1177.00px;width:5px;height:5px;border-radius:50%;background:#222"></div>
<div class="t" style="left:519.60px;top:1171.74px;font-size:15.9px;line-height:15.9px;font-weight:normal;color:#525252;transform:scaleX(0.8994);transform-origin:0 13.46px;letter-spacing:0.4px;">Système de sécurité photo</div>
<div class="t" style="left:519.60px;top:1189.34px;font-size:15.9px;line-height:15.9px;font-weight:normal;color:#525252;transform:scaleX(0.8994);transform-origin:0 13.46px;letter-spacing:0.4px;">électrique NEMA 1</div>
<div class="r" style="left:510.00px;top:1218.80px;width:5px;height:5px;border-radius:50%;background:#222"></div>
<div class="t" style="left:519.60px;top:1213.54px;font-size:15.9px;line-height:15.9px;font-weight:normal;color:#525252;transform:scaleX(0.8994);transform-origin:0 13.46px;letter-spacing:0.4px;">Receveur intégré</div>
<div class="r" style="left:732.60px;top:1177.00px;width:5px;height:5px;border-radius:50%;background:#222"></div>
<div class="t" style="left:742.20px;top:1171.74px;font-size:15.9px;line-height:15.9px;font-weight:normal;color:#525252;transform:scaleX(0.8994);transform-origin:0 13.46px;letter-spacing:0.4px;">Système d’inversion</div>
<div class="t" style="left:742.20px;top:1189.34px;font-size:15.9px;line-height:15.9px;font-weight:normal;color:#525252;transform:scaleX(0.8994);transform-origin:0 13.46px;letter-spacing:0.4px;">pneumatique</div>
<div class="r" style="left:954.60px;top:1177.00px;width:5px;height:5px;border-radius:50%;background:#222"></div>
<div class="t" style="left:964.20px;top:1171.74px;font-size:15.9px;line-height:15.9px;font-weight:normal;color:#525252;transform:scaleX(0.8994);transform-origin:0 13.46px;letter-spacing:0.4px;">Rideaux lumineaux</div>
<div class="t" style="left:121.60px;top:1255.02px;font-size:13.8px;line-height:13.8px;font-weight:normal;color:#555555;transform:scaleX(0.9572);transform-origin:0 11.68px;">Il existe d’autres accessoires reliés à un ouvre-porte électrique. Cette liste n’est qu’un résumé des plus utilisés.</div>
<div class="t" style="left:217.50px;top:1300.16px;font-size:19.0px;line-height:19.0px;font-weight:normal;color:#4d4d4d;transform:scaleX(0.8505);transform-origin:0 16.09px;letter-spacing:0.4px;">Tout raccordement électrique (filage, conduite et branchements) doit être fait par un électricien qualifié.</div>
<div class="t" style="left:217.50px;top:1321.21px;font-size:19.0px;line-height:19.0px;font-weight:normal;color:#4d4d4d;transform:scaleX(0.8505);transform-origin:0 16.09px;letter-spacing:0.4px;">Ne pas oublier d’ajouter cette note à votre devis, section Travaux connexes.</div>
<div class="t" style="left:113.60px;top:1300.16px;font-size:19.0px;line-height:19.0px;font-weight:normal;color:#c2102f;transform:scaleX(0.8532);transform-origin:0 16.09px;">ATTENTION</div>

<div class="r" style="left:209.6px;top:1306.5px;width:2.2px;height:2.2px;background:#c2102f"></div>
<div class="r" style="left:209.6px;top:1314px;width:2.2px;height:2.2px;background:#c2102f"></div>
<div class="t" style="left:112.6px;top:1250.2px;font-size:12.5px;line-height:12.5px;font-weight:bold;color:#c2102f">1</div>
<div class="t" style="left:485.2px;top:350.6px;font-size:14px;line-height:14px;font-weight:normal;color:#c2102f;-webkit-text-stroke:0.4px #c2102f;transform:scaleX(0.8);transform-origin:0 0">1</div>

</body></html>
